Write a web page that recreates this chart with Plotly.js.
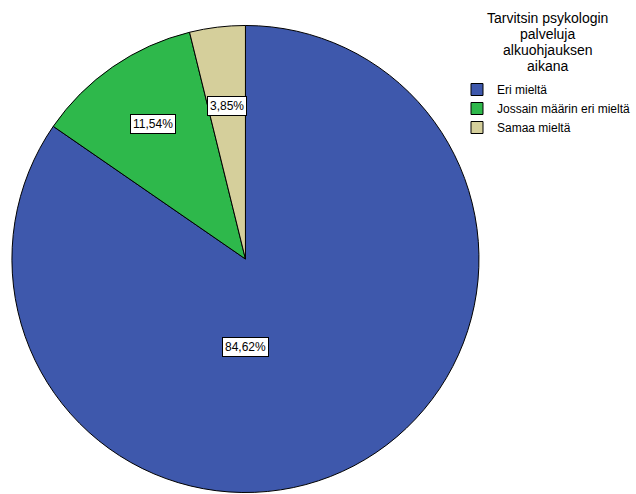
<!DOCTYPE html>
<html>
<head>
<meta charset="utf-8">
<script src="https://cdn.plot.ly/plotly-3.0.1.min.js"></script>
<style>html,body{margin:0;padding:0;background:#fff;}#chart{width:636px;height:494px;}</style>
</head>
<body>
<div id="chart"></div>
<script>
// Data
const categories = ["Eri mieltä", "Jossain määrin eri mieltä", "Samaa mieltä"];
const counts = [22, 3, 1];
const legendTitleLines = ["Tarvitsin psykologin", "palveluja", "alkuohjauksen", "aikana"];

// Styles / layout config
const colors = ["#3e58ac", "#2eb84b", "#d5cf9b"];
const W = 636, H = 494;
const cxPx = 247, cyPx = 259, Rpx = 235;
const labelRadius = [0.375, 0.70, 0.655];   // fraction of pie radius
const labelAngleOverride = [180, null, null]; // degrees clockwise from top
const titleCenterX = 551, titleTopY = 18, titleLineStep = 16;
const fontFam = "Liberation Sans, Arial, sans-serif";

const domain = {
  x: [(cxPx - Rpx) / W, (cxPx + Rpx) / W],
  y: [1 - (cyPx + Rpx) / H, 1 - (cyPx - Rpx) / H]
};

const total = counts.reduce((a, b) => a + b, 0);
const annotations = [];
let cum = 0;
counts.forEach((v, i) => {
  const frac = v / total;
  const mid = (cum + frac / 2) * 360;
  cum += frac;
  const ang = (labelAngleOverride[i] !== null ? labelAngleOverride[i] : mid) * Math.PI / 180;
  const r = labelRadius[i] * Rpx;
  annotations.push({
    xref: "paper", yref: "paper",
    x: (cxPx + r * Math.sin(ang)) / W,
    y: 1 - (cyPx - r * Math.cos(ang)) / H,
    xanchor: "center", yanchor: "middle",
    text: (frac * 100).toFixed(2).replace(".", ",") + "%",
    showarrow: false,
    bgcolor: "#ffffff",
    bordercolor: "#000000",
    borderwidth: 1,
    borderpad: 2,
    font: {family: fontFam, size: 12, color: "#000"}
  });
});

legendTitleLines.forEach((line, i) => {
  annotations.push({
    xref: "paper", yref: "paper",
    x: titleCenterX / W,
    y: 1 - (titleTopY + i * titleLineStep) / H,
    xanchor: "center", yanchor: "middle",
    text: line,
    showarrow: false,
    borderpad: 0,
    font: {family: fontFam, size: 14, color: "#000"}
  });
});

const trace = {
  type: "pie",
  labels: categories,
  values: counts,
  sort: false,
  direction: "clockwise",
  rotation: 0,
  textinfo: "none",
  hoverinfo: "label+percent",
  marker: {colors: colors, line: {color: "#000000", width: 1}},
  domain: domain
};

const layout = {
  width: W, height: H,
  margin: {l: 0, r: 0, t: 0, b: 0},
  paper_bgcolor: "#ffffff",
  separators: ",.",
  font: {family: fontFam, color: "#000"},
  showlegend: true,
  legend: {
    x: 460 / W, y: 1 - 75 / H,
    xanchor: "left", yanchor: "top",
    font: {size: 12, color: "#000"},
    bgcolor: "rgba(0,0,0,0)",
    tracegroupgap: 0
  },
  annotations: annotations
};

Plotly.newPlot("chart", [trace], layout, {staticPlot: true});
</script>
</body>
</html>
